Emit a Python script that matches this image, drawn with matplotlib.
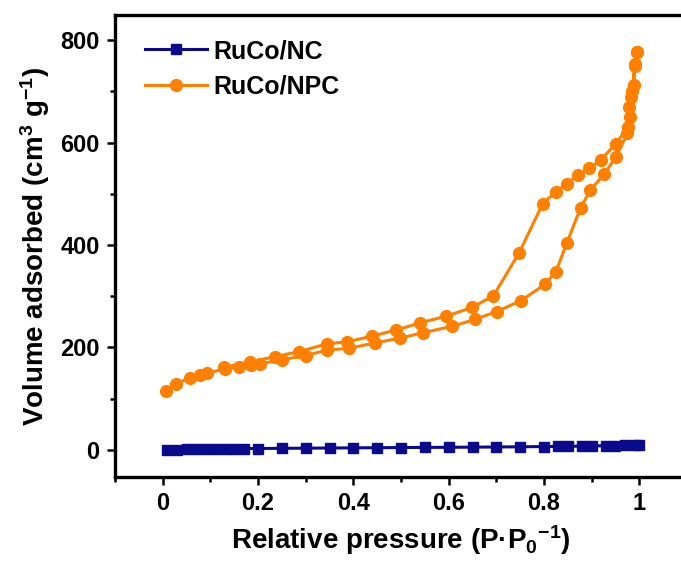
import matplotlib
matplotlib.use("Agg")
import matplotlib.pyplot as plt
from matplotlib.ticker import MultipleLocator

plt.rcParams["font.family"] = ["Liberation Sans", "DejaVu Sans"]
plt.rcParams["font.weight"] = "bold"
plt.rcParams["axes.labelweight"] = "bold"
plt.rcParams["axes.unicode_minus"] = False
plt.rcParams["mathtext.fontset"] = "custom"
plt.rcParams["mathtext.rm"] = "Liberation Sans:bold"
plt.rcParams["mathtext.bf"] = "Liberation Sans:bold"
plt.rcParams["mathtext.default"] = "bf"

# N2 isotherm, RuCo/NPC: adsorption branch then desorption branch
npc_ads_p = [0.008, 0.027, 0.057, 0.078, 0.094, 0.13, 0.16, 0.185, 0.205, 0.25,
             0.30, 0.345, 0.39, 0.446, 0.498, 0.547, 0.607, 0.656, 0.701, 0.751,
             0.802, 0.825, 0.848, 0.877, 0.897, 0.926, 0.951, 0.975, 0.98, 0.985,
             0.99, 0.995]
npc_ads_v = [115, 129, 140, 146, 150, 158, 162, 166, 168, 176,
             184, 195, 198, 209, 218, 229, 241, 255, 270, 291,
             323, 348, 404, 473, 507, 538, 572, 618, 650, 700,
             750, 776]
npc_des_p = [0.995, 0.99, 0.989, 0.982, 0.979, 0.977, 0.951, 0.919, 0.895, 0.872,
             0.848, 0.825, 0.797, 0.748, 0.694, 0.649, 0.595, 0.54, 0.49, 0.439,
             0.387, 0.345, 0.287, 0.236, 0.184, 0.129]
npc_des_v = [776, 754, 712, 688, 669, 631, 598, 566, 550, 536,
             520, 504, 480, 385, 301, 278, 261, 248, 234, 222,
             211, 207, 192, 182, 172, 161]

# RuCo/NC: nearly flat isotherm
nc_p = [0.01, 0.03, 0.05, 0.07, 0.09, 0.11, 0.13, 0.15, 0.17, 0.2,
        0.25, 0.3, 0.35, 0.4, 0.45, 0.5, 0.55, 0.6, 0.65, 0.7,
        0.75, 0.8, 0.83, 0.85, 0.88, 0.9, 0.93, 0.95, 0.97, 0.99, 1.0]
nc_v = [0, 0.5, 1, 1.2, 1.5, 1.8, 2, 2.2, 2.4, 2.6,
        3, 3.3, 3.6, 3.9, 4.2, 4.5, 4.8, 5, 5.3, 5.6,
        6, 6.4, 6.7, 7, 7.3, 7.6, 8, 8.4, 8.8, 9.3, 9.8]

ORANGE = "#FF8000"
NAVY = "#0A0A8C"

fig = plt.figure(figsize=(6.81, 5.61), dpi=100)
ax = fig.add_axes([115 / 681, 84 / 561, 572 / 681, 462 / 561])

ax.plot(nc_p, nc_v, "-s", color=NAVY, lw=2.2, ms=7, label="RuCo/NC")
ax.plot(npc_ads_p + npc_des_p, npc_ads_v + npc_des_v, "-o", color=ORANGE,
        lw=2.2, ms=8.5, label="RuCo/NPC")

ax.set_xlim(-0.1, 1.1)
ax.set_ylim(-53, 849)
ax.xaxis.set_major_locator(MultipleLocator(0.2))
ax.xaxis.set_minor_locator(MultipleLocator(0.1))
ax.yaxis.set_major_locator(MultipleLocator(200))
ax.yaxis.set_minor_locator(MultipleLocator(100))
ax.set_xticks([0, 0.2, 0.4, 0.6, 0.8, 1.0])
ax.set_xticklabels(["0", "0.2", "0.4", "0.6", "0.8", "1"])

for s in ax.spines.values():
    s.set_linewidth(2.4)
ax.tick_params(which="major", direction="out", length=6, width=1.8,
               labelsize=17, pad=5)
ax.tick_params(which="minor", direction="out", length=3.5, width=1.8)
ax.tick_params(top=False, right=False, which="both")

ax.set_xlabel("Relative pressure (P·P$_0$$^{-1}$)", fontsize=20, labelpad=6)
ax.set_ylabel("Volume adsorbed (cm$^3$ g$^{-1}$)", fontsize=20, labelpad=6)

ax.legend(loc="upper left", bbox_to_anchor=(0.052, 0.948), frameon=False,
          fontsize=18, handlelength=2.5, handletextpad=0.25, labelspacing=0.45,
          borderaxespad=0, borderpad=0)

fig.savefig("out.png", dpi=100)
